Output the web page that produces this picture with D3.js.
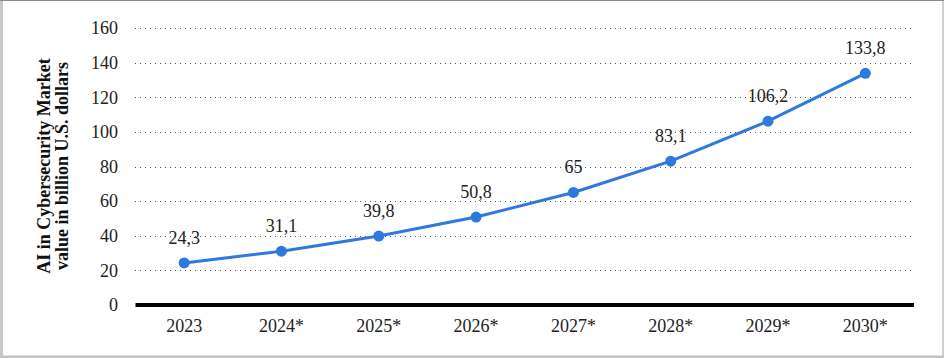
<!DOCTYPE html>
<html><head><meta charset="utf-8">
<script src="https://cdn.jsdelivr.net/npm/d3@7"></script>
<style>body{margin:0;background:#fff}svg{display:block}
text{font-family:"Liberation Serif","DejaVu Serif","Times New Roman",Times,serif;}</style>
</head><body>
<script>
const years = ["2023","2024*","2025*","2026*","2027*","2028*","2029*","2030*"];
const values = [24.3,31.1,39.8,50.8,65,83.1,106.2,133.8];
const valueLabels = ["24,3","31,1","39,8","50,8","65","83,1","106,2","133,8"];
const yTicks = [0,20,40,60,80,100,120,140,160];
const yTitle = ["AI in Cybersecurity Market","value in billion U.S. dollars"];

const W=944,H=358;
const svg=d3.select("body").append("svg").attr("width",W).attr("height",H);
svg.append("rect").attr("x",0).attr("y",0).attr("width",W).attr("height",H).attr("fill","#fff");
// border
svg.append("rect").attr("x",1.5).attr("y",0.5).attr("width",W-2.5).attr("height",H-1.5)
  .attr("fill","none").attr("stroke","#a0a0a0").attr("stroke-width",1);
svg.append("line").attr("x1",1.5).attr("x2",1.5).attr("y1",0).attr("y2",H).attr("stroke","#c8c8c8").attr("stroke-width",3);
svg.append("line").attr("x1",0).attr("x2",W).attr("y1",0.5).attr("y2",0.5).attr("stroke","#8a8a8a").attr("stroke-width",1);
svg.append("line").attr("x1",0).attr("x2",W).attr("y1",H-1.5).attr("y2",H-1.5).attr("stroke","#c0c0c0").attr("stroke-width",2);

const x=d3.scaleBand().domain(years).range([135.5,914]);
const y=d3.scaleLinear().domain([0,160]).range([305,28]);

// gridlines
svg.append("g").selectAll("line").data(yTicks.filter(d=>d>0)).join("line")
  .attr("x1",135).attr("x2",913).attr("y1",d=>Math.round(y(d))+0.5).attr("y2",d=>Math.round(y(d))+0.5)
  .attr("stroke","#555").attr("stroke-width",1).attr("stroke-dasharray","1,4");

// y axis labels
const yAxis=d3.axisLeft(y).tickValues(yTicks).tickSize(0).tickPadding(0).tickFormat(d3.format("d"));
const gy=svg.append("g").attr("transform","translate(118,0)").call(yAxis);
gy.attr("font-family",null).attr("font-size",null);
gy.select(".domain").remove();
gy.selectAll("text").attr("font-size",18).attr("fill","#222");

// baseline
svg.append("line").attr("x1",135.5).attr("x2",914).attr("y1",y(0)).attr("y2",y(0)).attr("stroke","#000").attr("stroke-width",4);

// x axis labels
const xAxis=d3.axisBottom(x).tickSize(0).tickPadding(0);
const gx=svg.append("g").attr("transform","translate(0,319)").call(xAxis);
gx.attr("font-family",null).attr("font-size",null);
gx.select(".domain").remove();
gx.selectAll("text").attr("font-size",18).attr("fill","#222").attr("dy","0.71em");

const cx=d=>x(d)+x.bandwidth()/2;
const pts=years.map((yr,i)=>({yr,v:values[i],l:valueLabels[i]}));
svg.append("path").datum(pts).attr("fill","none").attr("stroke","#2f78de").attr("stroke-width",3)
  .attr("d",d3.line().x(d=>cx(d.yr)).y(d=>y(d.v)));
svg.append("g").selectAll("circle").data(pts).join("circle")
  .attr("cx",d=>cx(d.yr)).attr("cy",d=>y(d.v)).attr("r",5.5).attr("fill","#2f78de");
svg.append("g").selectAll("text").data(pts).join("text")
  .attr("x",d=>cx(d.yr)).attr("y",d=>y(d.v)-19).attr("text-anchor","middle")
  .attr("font-size",18).attr("fill","#222").text(d=>d.l);

// y title
const t=svg.append("text").attr("transform","translate(50,166) rotate(-90)")
  .attr("text-anchor","middle").attr("font-size",18).attr("font-weight","bold").attr("fill","#111");
t.append("tspan").attr("x",0).attr("dy",0).text(yTitle[0]);
t.append("tspan").attr("x",0).attr("dy",18).text(yTitle[1]);
</script>
</body></html>
